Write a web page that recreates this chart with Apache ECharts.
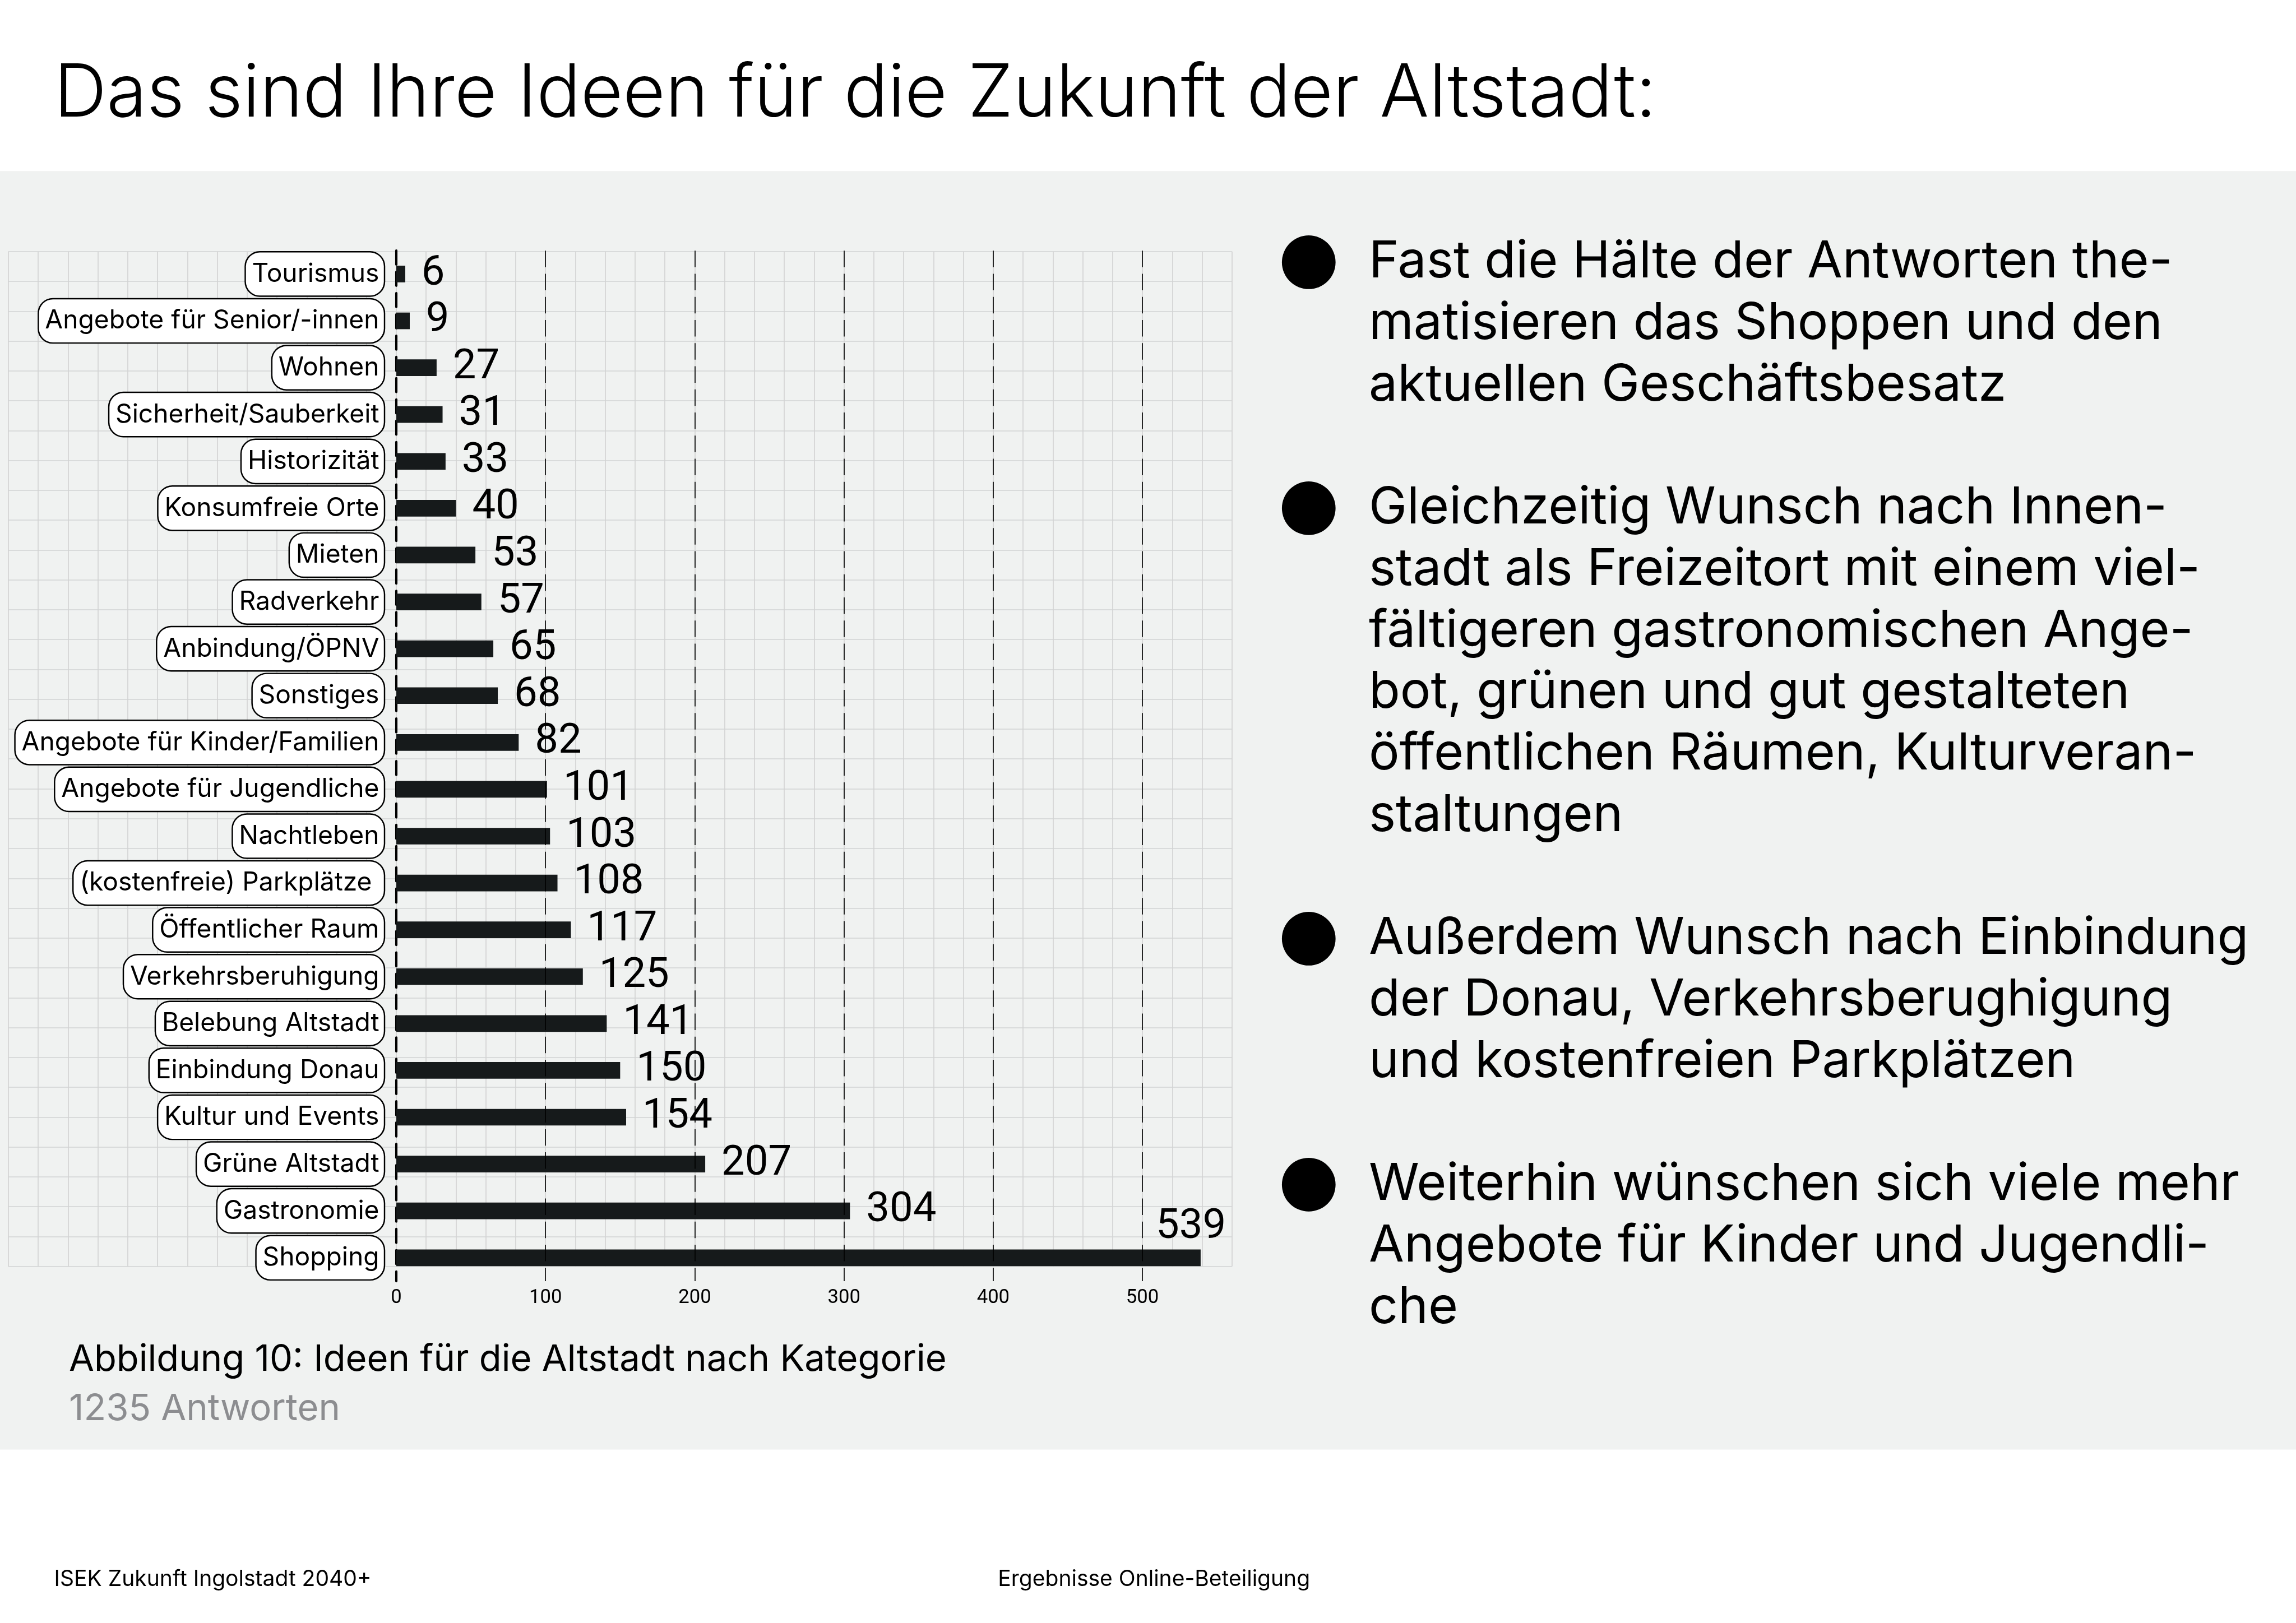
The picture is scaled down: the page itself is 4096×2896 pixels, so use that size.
<!DOCTYPE html>
<html><head><meta charset="utf-8">
<script src="https://cdn.jsdelivr.net/npm/echarts@6/dist/echarts.min.js"></script>
<style>html,body{margin:0;padding:0;background:#fff}#c{width:4096px;height:2896px}</style>
</head><body><div id="c"></div>
<script>
// ---------- data ----------
const categories = ['Tourismus','Angebote für Senior/-innen','Wohnen','Sicherheit/Sauberkeit','Historizität','Konsumfreie Orte','Mieten','Radverkehr','Anbindung/ÖPNV','Sonstiges','Angebote für Kinder/Familien','Angebote für Jugendliche','Nachtleben','(kostenfreie) Parkplätze ','Öffentlicher Raum','Verkehrsberuhigung','Belebung Altstadt','Einbindung Donau','Kultur und Events','Grüne Altstadt','Gastronomie','Shopping'];
const values = [6,9,27,31,33,40,53,57,65,68,82,101,103,108,117,125,141,150,154,207,304,539];
const tickLabels = [0,100,200,300,400,500];
const dashedLines = [100,200,300,400,500];
const bgMin = -260, xMin = 0, xMax = 560, gridStep = 20, gridRows = 34;
const title = 'Das sind Ihre Ideen für die Zukunft der Altstadt:';
const caption = 'Abbildung 10: Ideen für die Altstadt nach Kategorie';
const subcaption = '1235 Antworten';
const bulletParagraphs = [
  ['Fast die Hälte der Antworten the-','matisieren das Shoppen und den','aktuellen Geschäftsbesatz'],
  ['Gleichzeitig Wunsch nach Innen-','stadt als Freizeitort mit einem viel-','fältigeren gastronomischen Ange-','bot, grünen und gut gestalteten','öffentlichen Räumen, Kulturveran-','staltungen'],
  ['Außerdem Wunsch nach Einbindung','der Donau, Verkehrsberughigung','und kostenfreien Parkplätzen'],
  ['Weiterhin wünschen sich viele mehr','Angebote für Kinder und Jugendli-','che']
];
const footerLeft = 'ISEK Zukunft Ingolstadt 2040+';
const footerRight = 'Ergebnisse Online-Beteiligung';

// ---------- layout (reference px * S) ----------
const S = 0.825;
const FONT = 'Inter';
const NUMFONT = 'Roboto';
const MID = 0.36;            // em-middle offset above baseline
const INK = '#000000';
const BAR = '#161a1b';
const PANEL = '#f0f2f1';
const GRIDC = '#d2d3d3';

const chart = echarts.init(document.getElementById('c'), null, {renderer:'canvas'});

// right hand text
const rtF = 110.5*S, rtL = 133*S, rtX = 2960*S, rtBase0 = 607*S;
const rtTop = rtBase0 - rtL/2 - MID*rtF;
let allLines = [];
const bulletLineIdx = [];
bulletParagraphs.forEach((p,i)=>{ if(i>0) allLines.push(''); bulletLineIdx.push(allLines.length); allLines = allLines.concat(p); });

function txt(x, base, size, text, fill, weight, family){
  return {type:'text', x:x*S, y:(base - MID*size)*S,
    style:{text:text, font:(weight||400)+' '+(size*S)+'px '+(family||FONT), fill:fill||INK, verticalAlign:'middle'}};
}

const graphics = [
  {type:'rect', z:-10, silent:true, shape:{x:0,y:370*S,width:4096,height:(3135-370)*S}, style:{fill:PANEL}},
  txt(117, 261, 158, title, INK, 300),
  txt(149, 2969, 79, caption),
  txt(149, 3076, 79, subcaption, '#8c8d90'),
  txt(117, 3433, 47.3, footerLeft),
  txt(2158, 3433, 47.3, footerRight),
  {type:'text', x:rtX, y:rtTop, style:{text:allLines.join('\n'), font:rtF+'px '+FONT, lineHeight:rtL, fill:INK, verticalAlign:'top'}}
];
bulletLineIdx.forEach(idx=>{
  const base = rtBase0 + idx*rtL;
  graphics.push({type:'circle', shape:{cx:2830*S, cy: base - 0.36*rtF, r:58*S}, style:{fill:INK}});
});

const barData = values.map((v,i)=>{
  if (i === values.length-1) {
    return {value:v, label:{position:['100%',0], align:'right', verticalAlign:'bottom', offset:[55*S,-2*S]}};
  }
  return v;
});

const bgLeft = 18*S, zeroX = 857*S, rightX = 2664*S;
chart.setOption({
  backgroundColor:'#ffffff',
  animation:false,
  grid:[
    {left:bgLeft, width:rightX-bgLeft, top:544*S, height:(2739-544)*S, outerBoundsMode:'none'},
    {left:zeroX, width:rightX-zeroX, top:542*S, height:(2771-542)*S, outerBoundsMode:'none'}
  ],
  xAxis:[
    {gridIndex:0, type:'value', min:bgMin, max:xMax, interval:gridStep, axisLine:{show:false}, axisTick:{show:false}, axisLabel:{show:false},
     splitLine:{show:true, lineStyle:{color:GRIDC, width:2*S}}},
    {gridIndex:1, type:'value', min:xMin, max:xMax, interval:gridStep, axisLine:{show:false}, axisTick:{show:false}, splitLine:{show:false},
     axisLabel:{show:true, showMinLabel:true, showMaxLabel:true, margin:16*S, fontFamily:NUMFONT, fontSize:42*S, color:INK, formatter:v=> tickLabels.includes(v) ? String(v) : ''}}
  ],
  yAxis:[
    {gridIndex:0, type:'value', min:0, max:gridRows, interval:1, axisLine:{show:false}, axisTick:{show:false}, axisLabel:{show:false},
     splitLine:{show:true, lineStyle:{color:GRIDC, width:2*S}}},
    {gridIndex:1, type:'category', data:categories, inverse:true, position:'left',
     axisLine:{show:true, onZero:false, lineStyle:{color:INK, width:5*S, type:[30*S,16*S]}},
     axisTick:{show:false}, splitLine:{show:false},
     axisLabel:{show:true, interval:0, margin:27*S, fontFamily:FONT, fontSize:56*S, color:INK, backgroundColor:'#ffffff', borderColor:INK, borderWidth:3*S,
       borderRadius:30*S, padding:[13*S,10*S,12*S,13*S], lineHeight:68*S}}
  ],
  series:[{
    type:'bar', xAxisIndex:1, yAxisIndex:1, data:barData, barWidth:36*S,
    itemStyle:{color:BAR},
    label:{show:true, position:'right', distance:35*S, fontFamily:NUMFONT, fontSize:90*S, color:INK},
    markLine:{silent:true, symbol:'none', label:{show:false},
      lineStyle:{color:INK, width:2*S, type:[36*S,14*S]},
      data: dashedLines.map(v=>({xAxis:v}))}
  }],
  graphic: graphics
});
</script>
</body></html>
